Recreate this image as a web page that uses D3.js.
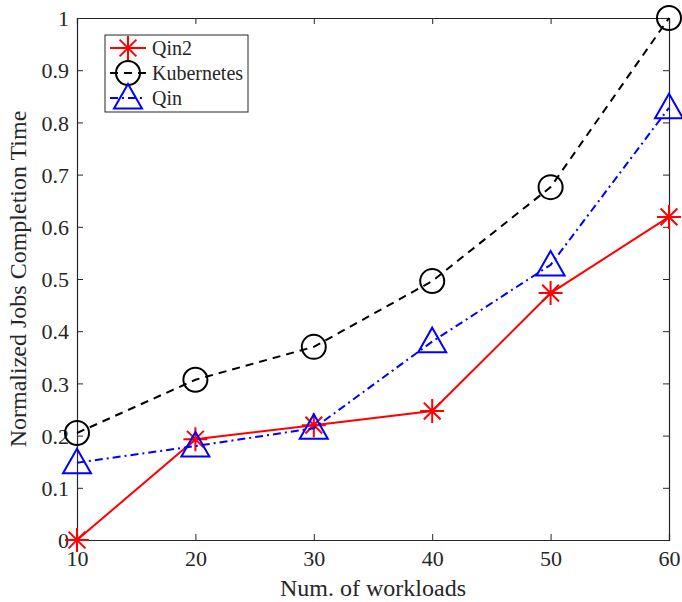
<!DOCTYPE html>
<html>
<head>
<meta charset="utf-8">
<script src="https://cdn.jsdelivr.net/npm/d3@7"></script>
<style>
  body { margin: 0; background: #fff; }
  text { font-family: "Liberation Serif", "Times New Roman", serif; fill: #262626; }
</style>
</head>
<body>
<div class="chart"></div>
<script>
const workloads = [10, 20, 30, 40, 50, 60];
const qin2 = [0, 0.193, 0.22, 0.247, 0.473, 0.619];
const kubernetes = [0.205, 0.307, 0.37, 0.496, 0.676, 1.0];
const qin = [0.148, 0.18, 0.214, 0.38, 0.527, 0.828];
const yTicks = [0, 0.1, 0.2, 0.3, 0.4, 0.5, 0.6, 0.7, 0.8, 0.9, 1];

const width = 682, height = 602;
const margin = {top: 18, right: 13, bottom: 62, left: 77};

const svg = d3.select(".chart").append("svg")
    .attr("width", width)
    .attr("height", height);

const x = d3.scaleLinear().domain([10, 60]).range([margin.left, width - margin.right]);
const y = d3.scaleLinear().domain([0, 1]).range([height - margin.bottom, margin.top]);

/* axes with inward ticks, box style */
const axisColor = "#262626";
const gx = svg.append("g")
    .attr("transform", "translate(0," + y(0) + ")")
    .call(d3.axisBottom(x).tickValues(workloads).tickSize(-6).tickPadding(10).tickFormat(d3.format("d")));
const gxTop = svg.append("g")
    .attr("transform", "translate(0," + y(1) + ")")
    .call(d3.axisTop(x).tickValues(workloads).tickSize(-6).tickFormat(""));
const gy = svg.append("g")
    .attr("transform", "translate(" + x(10) + ",0)")
    .call(d3.axisLeft(y).tickValues(yTicks).tickSize(-6).tickPadding(8).tickFormat(d => d === 0 || d === 1 ? d3.format("d")(d) : d3.format(".1f")(d)));
const gyRight = svg.append("g")
    .attr("transform", "translate(" + x(60) + ",0)")
    .call(d3.axisRight(y).tickValues(yTicks).tickSize(-6).tickFormat(""));

[gx, gxTop, gy, gyRight].forEach(g => {
    g.select(".domain").attr("stroke", axisColor).attr("stroke-width", 1.2);
    g.selectAll(".tick line").attr("stroke", axisColor).attr("stroke-width", 1);
    g.selectAll(".tick text")
        .style("font-family", "'Liberation Serif', serif")
        .style("font-size", "22px")
        .attr("fill", axisColor);
});
gx.selectAll(".tick text").attr("dy", "0.71em");
gy.selectAll(".tick text").attr("dy", "0.35em");

/* axis labels */
svg.append("text")
    .attr("x", (x(10) + x(60)) / 2)
    .attr("y", 596)
    .attr("text-anchor", "middle")
    .style("font-size", "24px")
    .text("Num. of workloads");
svg.append("text")
    .attr("transform", "translate(26," + (y(0.5)) + ") rotate(-90)")
    .attr("text-anchor", "middle")
    .style("font-size", "24px")
    .text("Normalized Jobs Completion Time");

/* series */
const series = [
    {name: "Qin2", values: qin2, color: "#ff0000", dash: null, marker: "star"},
    {name: "Kubernetes", values: kubernetes, color: "#000000", dash: "8,6", marker: "circle"},
    {name: "Qin", values: qin, color: "#0000ff", dash: "8,4,2,4", marker: "triangle"}
];

const line = d3.line()
    .x((d, i) => x(workloads[i]))
    .y(d => y(d));

function drawMarker(g, type, cx, cy, color) {
    if (type === "circle") {
        g.append("circle").attr("cx", cx).attr("cy", cy).attr("r", 12)
            .attr("fill", "none").attr("stroke", color).attr("stroke-width", 2);
    } else if (type === "triangle") {
        const s = 14;
        g.append("path")
            .attr("d", "M" + cx + "," + (cy - s) + "L" + (cx + s) + "," + (cy + s * 0.75) + "L" + (cx - s) + "," + (cy + s * 0.75) + "Z")
            .attr("fill", "none").attr("stroke", color).attr("stroke-width", 2);
    } else {
        const r = 12, d = r * 0.7;
        g.append("path")
            .attr("d", "M" + (cx - r) + "," + cy + "L" + (cx + r) + "," + cy +
                "M" + cx + "," + (cy - r) + "L" + cx + "," + (cy + r) +
                "M" + (cx - d) + "," + (cy - d) + "L" + (cx + d) + "," + (cy + d) +
                "M" + (cx - d) + "," + (cy + d) + "L" + (cx + d) + "," + (cy - d))
            .attr("fill", "none").attr("stroke", color).attr("stroke-width", 2);
    }
}

series.forEach(s => {
    svg.append("path")
        .attr("d", line(s.values))
        .attr("fill", "none")
        .attr("stroke", s.color)
        .attr("stroke-width", 2)
        .attr("stroke-dasharray", s.dash);
    const g = svg.append("g");
    s.values.forEach((v, i) => drawMarker(g, s.marker, x(workloads[i]), y(v), s.color));
});

/* legend */
const legend = svg.append("g");
legend.append("rect")
    .attr("x", 105).attr("y", 35).attr("width", 143).attr("height", 77)
    .attr("fill", "#fff").attr("stroke", axisColor).attr("stroke-width", 1);
series.forEach((s, i) => {
    const ly = 48 + i * 25;
    legend.append("line")
        .attr("x1", 110).attr("x2", 146).attr("y1", ly).attr("y2", ly)
        .attr("stroke", s.color).attr("stroke-width", 2)
        .attr("stroke-dasharray", s.dash);
    drawMarker(legend, s.marker, 128, ly, s.color);
    legend.append("text")
        .attr("x", 152).attr("y", ly).attr("dy", "0.35em")
        .style("font-size", "20px")
        .text(s.name);
});
</script>
</body>
</html>
